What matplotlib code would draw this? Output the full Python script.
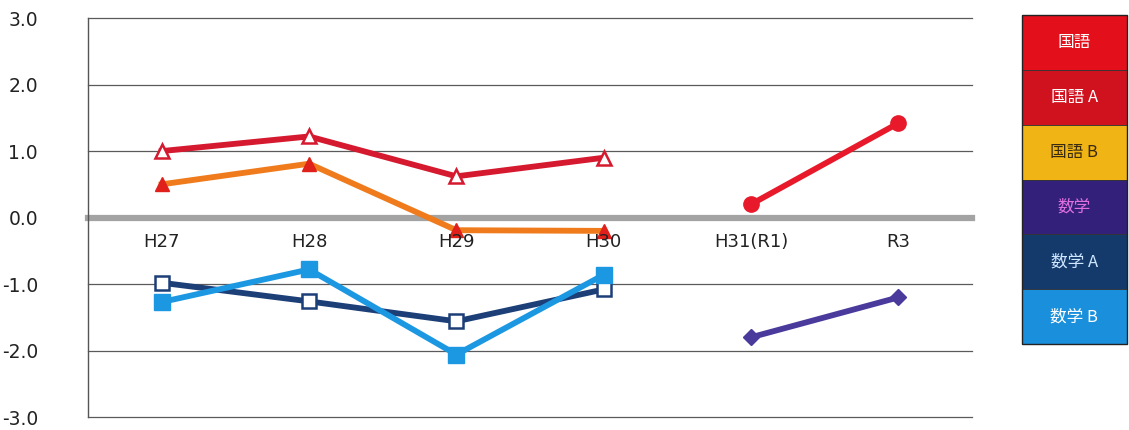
"""Score difference from national average, by subject and year."""

import matplotlib

matplotlib.use("Agg")

import matplotlib.pyplot as plt
import numpy as np
from matplotlib.patches import Rectangle

plt.rcParams["font.family"] = ["Noto Sans CJK JP", "DejaVu Sans"]

YEARS = ["H27", "H28", "H29", "H30", "H31(R1)", "R3"]

KOKUGO_A = [1.0, 1.22, 0.62, 0.9, np.nan, np.nan]
KOKUGO_B = [0.5, 0.81, -0.19, -0.2, np.nan, np.nan]
KOKUGO = [np.nan, np.nan, np.nan, np.nan, 0.2, 1.42]
SUGAKU = [np.nan, np.nan, np.nan, np.nan, -1.8, -1.2]
SUGAKU_A = [-0.98, -1.26, -1.56, -1.08, np.nan, np.nan]
SUGAKU_B = [-1.27, -0.78, -2.06, -0.86, np.nan, np.nan]

LEGEND_LABELS = ["国語", "国語 A", "国語 B", "数学", "数学 A", "数学 B"]
LEGEND_COLORS = ["#e3101b", "#d0121f", "#f0b414", "#33207a", "#143a6c", "#1a8fdc"]
LEGEND_TEXT = ["white", "white", "#3a2a10", "#e070e0", "#cfe6ff", "white"]

Y_TICKS = [3.0, 2.0, 1.0, 0.0, -1.0, -2.0, -3.0]


def main() -> None:
    fig = plt.figure(figsize=(11.29, 4.30), dpi=100)
    ax = fig.add_axes([0.078, 0.03, 0.783, 0.928])
    x = np.arange(len(YEARS))

    for val in Y_TICKS:
        if val == 0.0:
            ax.axhline(val, color="#a3a3a3", linewidth=4.5, zorder=1, clip_on=False)
        else:
            ax.axhline(val, color="#5a5a5a", linewidth=0.9, zorder=1, clip_on=False)

    ax.plot(x, KOKUGO_A, color="#d51a30", linewidth=4.2, marker="^", markersize=10,
            markerfacecolor="white", markeredgecolor="#d51a30", markeredgewidth=1.8, zorder=3)
    ax.plot(x, KOKUGO_B, color="#ef7b1c", linewidth=4.2, marker="^", markersize=10,
            markerfacecolor="#e0201a", markeredgecolor="#e0201a", zorder=3)
    ax.plot(x, KOKUGO, color="#e8192a", linewidth=4.2, marker="o", markersize=11,
            markerfacecolor="#e8192a", markeredgecolor="#e8192a", zorder=3)
    ax.plot(x, SUGAKU, color="#4a3a9c", linewidth=4.2, marker="D", markersize=8,
            markerfacecolor="#4a3a9c", markeredgecolor="#4a3a9c", zorder=3)
    ax.plot(x, SUGAKU_A, color="#1d3f78", linewidth=4.2, marker="s", markersize=10,
            markerfacecolor="white", markeredgecolor="#1d3f78", markeredgewidth=1.8, zorder=3)
    ax.plot(x, SUGAKU_B, color="#1c98e2", linewidth=4.2, marker="s", markersize=11,
            markerfacecolor="#1c98e2", markeredgecolor="#1c98e2", zorder=4)

    for i, label in enumerate(YEARS):
        ax.text(i, -0.37, label, ha="center", va="center", fontsize=13,
                color="#222222", family="DejaVu Sans")

    ax.set_xlim(-0.5, len(YEARS) - 0.5)
    ax.set_ylim(-3, 3)
    ax.set_xticks([])
    ax.set_yticks(Y_TICKS)
    ax.set_yticklabels([f"{v:.1f}" for v in Y_TICKS], fontsize=13.5, color="#222222",
                       family="DejaVu Sans")
    ax.tick_params(axis="y", length=0, pad=36)
    for side in ["top", "right", "bottom"]:
        ax.spines[side].set_visible(False)
    ax.spines["left"].set_color("#555555")
    ax.spines["left"].set_linewidth(1.0)

    # legend drawn as a column of coloured cells
    leg = fig.add_axes([0.905, 0.2, 0.093, 0.765])
    leg.set_xlim(0, 1)
    leg.set_ylim(0, len(LEGEND_LABELS))
    leg.axis("off")
    n = len(LEGEND_LABELS)
    for i, (label, color, tcolor) in enumerate(zip(LEGEND_LABELS, LEGEND_COLORS, LEGEND_TEXT)):
        y0 = n - 1 - i
        leg.add_patch(Rectangle((0, y0), 1, 1, facecolor=color, edgecolor="#333333",
                                linewidth=0.6, clip_on=False))
        leg.text(0.5, y0 + 0.5, label, ha="center", va="center", fontsize=12,
                 color=tcolor)
    leg.add_patch(Rectangle((0, 0), 1, n, facecolor="none", edgecolor="#222222",
                            linewidth=1.0, clip_on=False))

    fig.savefig("out.png", dpi=100)
    plt.close(fig)


if __name__ == "__main__":
    main()
